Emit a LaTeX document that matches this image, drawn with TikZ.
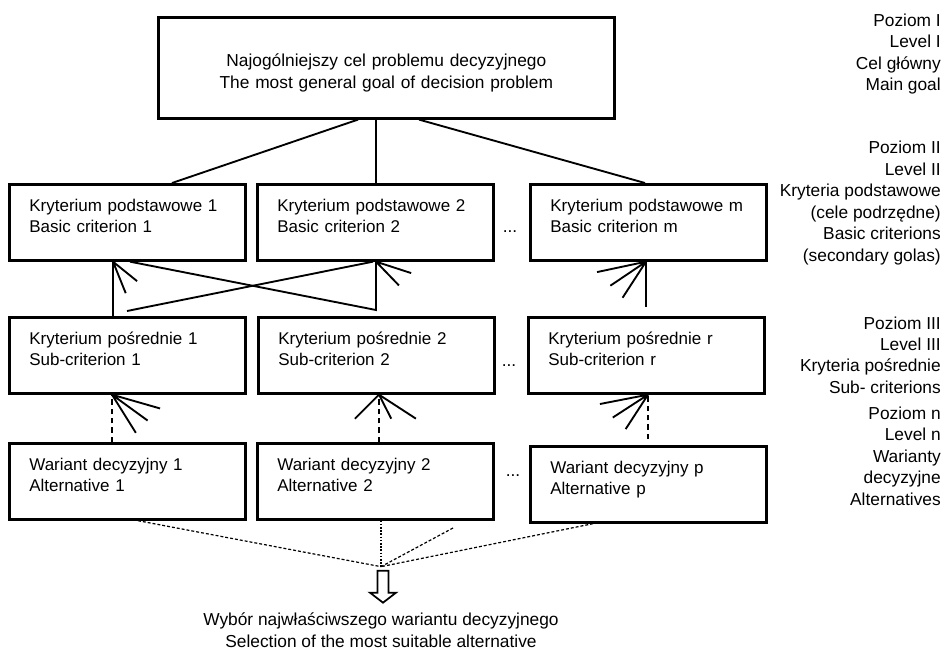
\documentclass[tikz,border=0pt]{standalone}
\usepackage{fontspec}
\setmainfont{Liberation Sans}
\usetikzlibrary{calc}

\tikzset{
  goalbox/.style={draw, line width=2pt, anchor=north west, align=center, text width=315pt, inner xsep=13.5pt, inner ysep=0pt, text height=37.1pt, text depth=38.6pt},
  critbox/.style={draw, line width=2pt, anchor=north west, align=left, text width=147pt, inner xsep=15pt, inner ysep=0pt, text height=20.25pt, text depth=36.75pt, font=\fontsize{12.75pt}{16.1pt}\selectfont},
  levellabel/.style={anchor=east, align=right, inner sep=0pt},
  link/.style={line width=1.4pt},
  shaft/.style={line width=1.1pt, dash pattern=on 4pt off 3pt},
  pick/.style={line width=0.9pt, dash pattern=on 2.2pt off 1.5pt},
  pickdot/.style={line width=0.9pt, dash pattern=on 1.2pt off 1.2pt},
}

\begin{document}
\begin{tikzpicture}[x=0.75pt, y=-0.75pt, font=\fontsize{13pt}{16.1pt}\selectfont]
  \useasboundingbox (0,0) rectangle (945,653);

  % level I
  \node[goalbox] (g) at (157,16) {Najogólniejszy cel problemu decyzyjnego\\The most general goal of decision problem};

  % level II
  \node[critbox] (k1) at (8,183) {Kryterium podstawowe 1\\Basic criterion 1};
  \node[critbox] (k2) at (256,183) {Kryterium podstawowe 2\\Basic criterion 2};
  \node[critbox] (km) at (529,183) {Kryterium podstawowe m\\Basic criterion m};
  \node (dk) at (510,232) {...};

  % level III
  \node[critbox] (s1) at (8,316) {Kryterium pośrednie 1\\Sub-criterion 1};
  \node[critbox] (s2) at (257,316) {Kryterium pośrednie 2\\Sub-criterion 2};
  \node[critbox] (sr) at (527,316) {Kryterium pośrednie r\\Sub-criterion r};
  \node (ds) at (509,366) {...};

  % level n
  \node[critbox] (w1) at (8,442) {Wariant decyzyjny 1\\Alternative 1};
  \node[critbox] (w2) at (256,442) {Wariant decyzyjny 2\\Alternative 2};
  \node[critbox] (wp) at (529,445) {Wariant decyzyjny p\\Alternative p};
  \node (dw) at (513,476) {...};

  % levels on the right
  \node[levellabel] (lev1) at (941,54) {Poziom I\\Level I\\Cel główny\\Main goal};
  \node[levellabel] (lev2) at (941,203) {Poziom II\\Level II\\Kryteria podstawowe\\(cele podrzędne)\\Basic criterions\\(secondary golas)};
  \node[levellabel] (lev3) at (941,355) {Poziom III\\Level III\\Kryteria pośrednie\\Sub- criterions};
  \node[levellabel] (levn) at (941,456) {Poziom n\\Level n\\Warianty\\decyzyjne\\Alternatives};

  % goal to basic criteria
  \draw[link] ($(g.south west)+(201,0)$) -- ($(k1.north west)+(164,0)$);
  \draw[link] ($(g.south west)+(219,0)$) -- ($(k2.north west)+(120,0)$);
  \draw[link] ($(g.south west)+(262,0)$) -- ($(km.north west)+(116,0)$);

  % sub-criteria to basic criteria
  \coordinate (tA) at ($(k1.south west)+(105,0)$);
  \coordinate (tB) at ($(k2.south west)+(120,0)$);
  \coordinate (tM) at ($(km.south west)+(117,0)$);
  \coordinate (jA) at ($(s1.north west)+(119,-5)$);
  \coordinate (jB) at ($(s2.north -| tB)+(0,-6)$);
  \coordinate (jM) at ($(sr.north -| tM)+(0,-9)$);
  \draw[link] (s1.north -| tA) -- (tA);
  \draw[link] (jA) -- ($(k2.south west)+(117,0)$);
  \draw[link] ($(k1.south west)+(122,0)$) -- (jB) -- (tB);
  \draw[link] (jM) -- (tM);
  \draw[link] (tA) -- ++(68:34) (tA) -- ++(39:31);
  \draw[link] (tB) -- ++(18:37) (tB) -- ++(46:33);
  \draw[link] (tM) -- ++(168:50) (tM) -- ++(146:43) (tM) -- ++(123:43);

  % alternatives to sub-criteria
  \coordinate (tC1) at ($(s1.south west)+(104,0)$);
  \coordinate (tC2) at ($(s2.south west)+(122,0)$);
  \coordinate (tCr) at ($(sr.south west)+(121,0)$);
  \draw[shaft] (w1.north -| tC1) -- (tC1);
  \draw[shaft] (w2.north -| tC2) -- (tC2);
  \draw[shaft] ($(wp.north -| tCr)+(0,-6)$) -- (tCr);
  \draw[link] (tC1) -- ++(16:50) (tC1) -- ++(36:44) (tC1) -- ++(58:45);
  \draw[link] (tC2) -- ++(135:34) (tC2) -- ++(63:27) (tC2) -- ++(33:44);
  \draw[link] (tCr) -- ++(169:49) (tCr) -- ++(147:42) (tCr) -- ++(123:41);

  % selection
  \coordinate (sel) at ($(w2.south west)+(125,46)$);
  \coordinate (loose) at (453,528);
  \draw[pick] ($(w1.south west)+(130,0)$) -- (sel);
  \draw[pickdot] ($(w2.south west)+(125,0)$) -- (sel);
  \draw[pick] (loose) -- (sel);
  \draw[pick] ($(wp.south west)+(64,0)$) -- (sel);
  \coordinate (down) at ($(sel)+(2,4)$);
  \draw[line width=1.3pt] (down) ++(-5.5,0) -- ++(11,0) -- ++(0,22) -- ++(7.5,0) -- ++(-13,10) -- ++(-13,-10) -- ++(7.5,0) -- cycle;
  \node[align=center] (result) at (381,630) {Wybór najwłaściwszego wariantu decyzyjnego\\Selection of the most suitable alternative};
\end{tikzpicture}
\end{document}
